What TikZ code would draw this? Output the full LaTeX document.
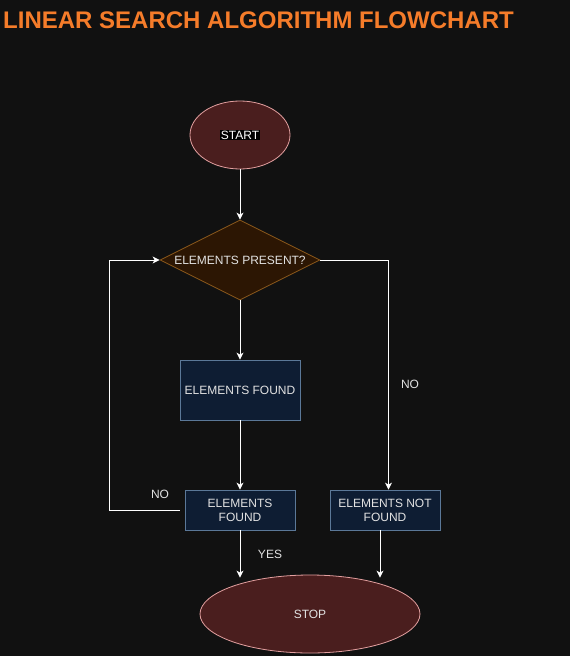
\documentclass[tikz,border=0pt]{standalone}
\usepackage{fontspec}
\setmainfont{Liberation Sans}
\usepackage{tikz}
\usetikzlibrary{positioning, arrows.meta, calc, shapes.geometric}
\definecolor{bgdark}{HTML}{111111}
\definecolor{titleorange}{HTML}{F57C2A}
\definecolor{termfill}{HTML}{4A1E1E}
\definecolor{termline}{HTML}{E3A0A0}
\definecolor{decfill}{HTML}{2C1603}
\definecolor{decline}{HTML}{8E5A1C}
\definecolor{procfill}{HTML}{0E1D33}
\definecolor{procline}{HTML}{5B7898}
\definecolor{txtgray}{HTML}{E2E2E2}

\begin{document}
\begin{tikzpicture}[
    x=1pt, y=-1pt,
    every node/.style={font=\fontsize{12}{14}\selectfont, text=txtgray},
    term/.style={draw=termline, fill=termfill, ellipse, line width=0.8pt, inner sep=0pt},
    dec/.style={draw=decline, fill=decfill, diamond, line width=0.8pt, inner sep=0pt,
        minimum width=160pt, minimum height=80pt},
    proc/.style={draw=procline, fill=procfill, rectangle, line width=0.8pt, inner sep=0pt,
        align=center},
    arr/.style={-{Stealth[length=7pt, width=7pt, inset=2pt]}, draw=white, line width=0.9pt},
    lbl/.style={inner sep=0pt}
]
\fill[bgdark] (0,0) rectangle (570,656);
\useasboundingbox (0,0) rectangle (570,656);

\node[anchor=west, inner sep=0pt, text=titleorange,
      font=\fontsize{24}{27}\selectfont\bfseries] (title) at (3,20) {LINEAR SEARCH ALGORITHM FLOWCHART};

% shapes
\node[term, minimum width=100pt, minimum height=68pt] (start) at (240,135)
    {\fboxsep=1pt\colorbox{black}{\textcolor{white}{START}}};
\node[dec, label={[text=txtgray]center:ELEMENTS PRESENT?}] (check) at (240,260) {};
\node[proc, minimum width=120pt, minimum height=60pt] (found) at (240,390) {ELEMENTS FOUND};
\node[proc, minimum width=110pt, minimum height=40pt] (found2) at (240,510) {ELEMENTS\\FOUND};
\node[proc, minimum width=110pt, minimum height=40pt] (notfound) at (385,510) {ELEMENTS NOT\\FOUND};
\node[term, minimum width=220pt, minimum height=78pt] (stop) at (310,614) {STOP};

% connectors
\draw[arr] (start) -- (check);
\draw[arr] (check) -- (found);
\draw[arr] (found) -- (found2);
\draw[arr] (check.east) -| ([xshift=3.5pt]notfound.north);
\draw[arr] ([xshift=-5pt]found2.west) -- ++(-70,0) |- (check.west);
\draw[arr] (found2.south) -- ([yshift=-3pt]found2.south |- stop.north);
\draw[arr] ([xshift=-5pt]notfound.south) -- ([xshift=-5pt,yshift=-3pt]notfound.south |- stop.north);

% labels
\node[lbl] (no1) at (410,384) {NO};
\node[lbl] (no2) at (160,494) {NO};
\node[lbl] (yes) at (270,554) {YES};

\end{tikzpicture}
\end{document}
